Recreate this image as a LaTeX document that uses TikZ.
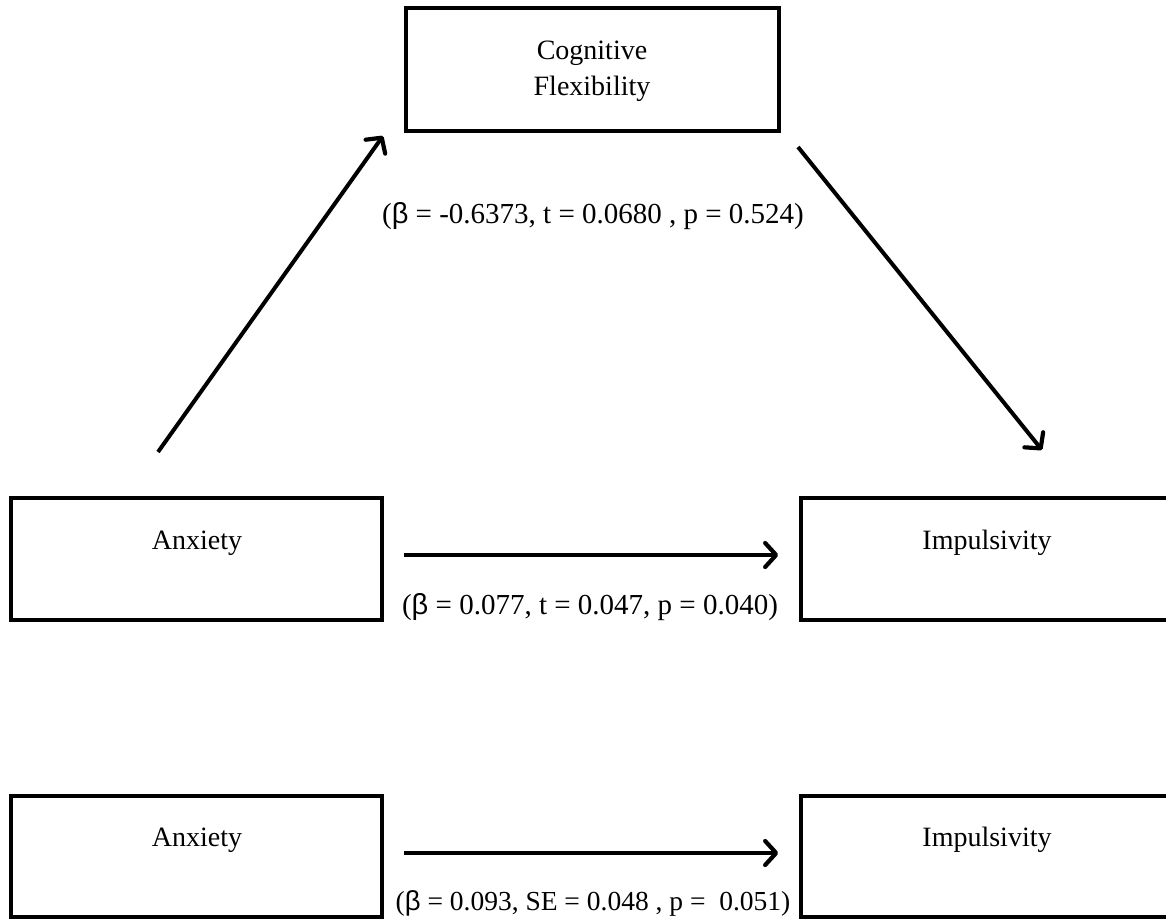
\documentclass[tikz,border=0pt]{standalone}
\usepackage{fontspec}
\setmainfont{Liberation Serif}
\newfontfamily\betafont{Liberation Sans}
\usetikzlibrary{arrows.meta,calc}
\newcommand{\bt}{{\betafont β}}
\tikzset{
  varbox/.style={draw=black, line width=3.5pt, rectangle, minimum width=371pt, minimum height=122pt, inner sep=0pt},
  boxtext/.style={font=\fontsize{28}{36}\selectfont, align=center, inner sep=0pt},
  stattext/.style={font=\fontsize{29}{34}\selectfont, inner sep=0pt},
  arr/.style={line width=4pt, -{Straight Barb[length=11pt,width=24pt,line width=4.2pt,round]}}
}
\begin{document}
\begin{tikzpicture}[x=1pt,y=-1pt]
\useasboundingbox (0,0) rectangle (1166,920);
\begin{scope}
\clip (0,0) rectangle (1166,920);
% boxes
\node[varbox, minimum width=373pt, minimum height=123pt] (cf) at (592.5,69.5) {};
\node[varbox] (a1) at (196.5,559) {};
\node[varbox, minimum width=372pt] (i1) at (987,559) {};
\node[varbox, minimum height=121pt] (a2) at (196.5,856.5) {};
\node[varbox, minimum width=372pt, minimum height=121pt] (i2) at (987,856.5) {};
\end{scope}
% box texts
\node[boxtext] (cft) at (592,71) {Cognitive\\Flexibility};
\node[boxtext] (a1t) at (197,543) {Anxiety};
\node[boxtext] (i1t) at (987,543) {Impulsivity};
\node[boxtext] (a2t) at (197,840) {Anxiety};
\node[boxtext] (i2t) at (987,840) {Impulsivity};
% diagonal connector ends
\coordinate (s1) at (158,452);
\coordinate (e1) at (383,136);
\coordinate (s2) at (798,147);
\coordinate (e2) at (1042,450);
\draw[arr] (s1) -- (e1);
\draw[arr] (s2) -- (e2);
% horizontal arrows
\draw[arr, shorten <=20pt, shorten >=21pt] ([yshift=4pt]a1.east) -- ([yshift=4pt]i1.west);
\draw[arr, shorten <=20pt, shorten >=21pt] ([yshift=3.5pt]a2.east) -- ([yshift=3.5pt]i2.west);
% statistics
\node[stattext] (l1) at (593,216) {(\bt{} = -0.6373, t = 0.0680 , p = 0.524)};
\node[stattext] (l2) at (590,607) {(\bt{} = 0.077, t = 0.047, p = 0.040)};
\node[stattext, font=\fontsize{27.5}{34}\selectfont] (l3) at (593,903) {(\bt{} = 0.093, SE = 0.048 , p = \ 0.051)};
\end{tikzpicture}
\end{document}
